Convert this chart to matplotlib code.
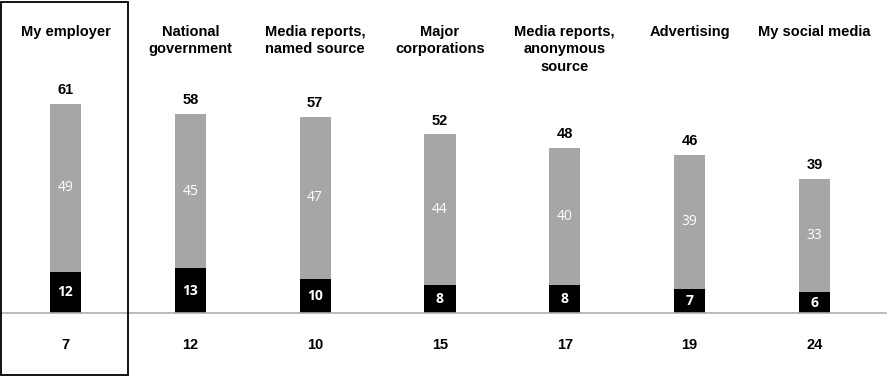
import matplotlib.pyplot as plt
from matplotlib.patches import Rectangle

categories = ["My employer", "National\ngovernment", "Media reports,\nnamed source",
              "Major\ncorporations", "Media reports,\nanonymous\nsource",
              "Advertising", "My social media"]
black_vals = [12, 13, 10, 8, 8, 7, 6]
gray_vals = [49, 45, 47, 44, 40, 39, 33]
totals = [61, 58, 57, 52, 48, 46, 39]
bottom_vals = [7, 12, 10, 15, 17, 19, 24]

GRAY = "#a6a6a6"

fig = plt.figure(figsize=(8.93, 3.76), dpi=100)
ax = fig.add_axes([0, 0, 1, 1])
ax.set_xlim(-0.525, 6.63)
ax.set_ylim(-18.4, 91.2)
ax.axis("off")

x = list(range(len(categories)))
w = 0.25
ax.bar(x, black_vals, width=w, color="black")
ax.bar(x, gray_vals, width=w, bottom=black_vals, color=GRAY)

# baseline
ax.plot([-0.525, 6.57], [0, 0], color="#a9b0ae", lw=1.2)

for i in x:
    ax.text(i, 84.0, categories[i], ha="center", va="top", fontsize=10.5,
            fontweight="bold", family="Liberation Sans", linespacing=1.32)
    ax.text(i, totals[i] + 2, str(totals[i]), ha="center", va="bottom",
            fontsize=10.5, fontweight="bold", family="Liberation Sans")
    ax.text(i, black_vals[i] + gray_vals[i] / 2, str(gray_vals[i]), ha="center",
            va="center", fontsize=10, color="white", family="Open Sans")
    ax.text(i, black_vals[i] / 2, str(black_vals[i]), ha="center", va="center",
            fontsize=10, color="white", fontweight="bold", family="Open Sans")
    ax.text(i, -9.5, str(bottom_vals[i]), ha="center", va="center",
            fontsize=10.5, fontweight="bold", family="Liberation Sans")

# highlight box around first column
fig.patches.append(Rectangle((0.0012, 0.003), 127 / 893, 0.993,
                             transform=fig.transFigure, fill=False,
                             edgecolor="black", lw=1.3))

fig.savefig("out.png", dpi=100)
